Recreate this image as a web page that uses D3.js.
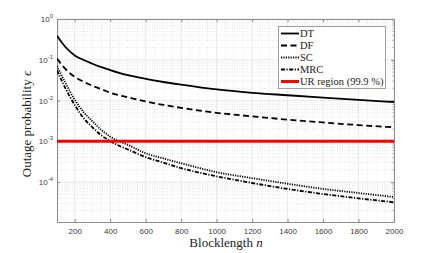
<!DOCTYPE html>
<html>
<head>
<meta charset="utf-8">
<script src="https://cdn.jsdelivr.net/npm/d3@7"></script>
<style>
  body { margin: 0; background: #fff; }
  svg text { font-family: "Liberation Sans", Arial, sans-serif; }
  svg text.serif { font-family: "Liberation Serif", "Times New Roman", serif; }
</style>
</head>
<body>
<script>
const w = 436;
const h = 253;
const margin = { left: 57, right: 42, top: 19, bottom: 31 };

// blocklength values
const blocklength = [100, 150, 200, 250, 300, 350, 400, 450, 500, 600, 700, 800, 1000, 1200, 1400, 1600, 1800, 2000];

// outage probability
const dtValues  = [0.39, 0.2, 0.128, 0.099, 0.08, 0.066, 0.056, 0.048, 0.042, 0.034, 0.0285, 0.0245, 0.0187, 0.0155, 0.0135, 0.0118, 0.0104, 0.0092];
const dfValues  = [0.107, 0.058, 0.038, 0.029, 0.023, 0.019, 0.0156, 0.0135, 0.012, 0.0095, 0.0078, 0.0066, 0.005, 0.0041, 0.0034, 0.0029, 0.0025, 0.0022];
const scValues  = [0.07, 0.026, 0.0105, 0.0052, 0.0031, 0.0019, 0.0013, 0.00101, 0.00082, 0.00051, 0.00038, 0.00029, 0.000175, 0.000125, 0.000091, 0.000068, 0.000054, 0.000043];
const mrcValues = [0.055, 0.019, 0.0078, 0.0037, 0.0022, 0.0014, 0.00101, 0.00078, 0.00063, 0.00041, 0.0003, 0.00022, 0.000138, 0.000095, 0.000068, 0.000051, 0.00004, 0.000032];
const urLevel = 1e-3;

const seriesNames = ['DT', 'DF', 'SC', 'MRC', 'UR region (99.9 %)'];
const xTicks = [200, 400, 600, 800, 1000, 1200, 1400, 1600, 1800, 2000];
const yTickExp = [0, -1, -2, -3, -4];

const svg = d3.select('body')
  .append('svg')
  .attr('width', w)
  .attr('height', h);

const xScale = d3.scaleLinear()
  .domain([100, 2000])
  .range([margin.left, w - margin.right]);

const yScale = d3.scaleLog()
  .domain([1.05e-5, 1])
  .range([h - margin.bottom, margin.top]);

const x0 = margin.left, x1 = w - margin.right;
const y0 = h - margin.bottom, y1 = margin.top;

// minor grid (dotted)
const minorY = [];
for (let e = -5; e < 0; e++) {
  for (let k = 2; k <= 9; k++) {
    const v = k * Math.pow(10, e);
    if (v > 1.05e-5 && v < 1) minorY.push(v);
  }
}
const minorX = d3.range(150, 2000, 50).filter(d => d % 200 !== 0);

svg.append('g').selectAll('line')
  .data(minorY)
  .enter()
  .append('line')
  .attr('x1', x0).attr('x2', x1)
  .attr('y1', d => yScale(d)).attr('y2', d => yScale(d))
  .attr('stroke', '#d4d4d4')
  .attr('stroke-width', 0.6)
  .attr('stroke-dasharray', '1,1.5');

svg.append('g').selectAll('line')
  .data(minorX)
  .enter()
  .append('line')
  .attr('x1', d => xScale(d)).attr('x2', d => xScale(d))
  .attr('y1', y0).attr('y2', y1)
  .attr('stroke', '#dedede')
  .attr('stroke-width', 0.6)
  .attr('stroke-dasharray', '1,1.5');

// major grid
svg.append('g').selectAll('line')
  .data(xTicks)
  .enter()
  .append('line')
  .attr('x1', d => xScale(d)).attr('x2', d => xScale(d))
  .attr('y1', y0).attr('y2', y1)
  .attr('stroke', '#e3e3e3')
  .attr('stroke-width', 0.8);

svg.append('g').selectAll('line')
  .data(yTickExp)
  .enter()
  .append('line')
  .attr('x1', x0).attr('x2', x1)
  .attr('y1', d => yScale(Math.pow(10, d))).attr('y2', d => yScale(Math.pow(10, d)))
  .attr('stroke', '#e3e3e3')
  .attr('stroke-width', 0.8);

// axes with inward ticks
const axisColor = '#8c8c8c';
const xAxis = d3.axisBottom(xScale).tickValues(xTicks).tickSizeInner(-3).tickSizeOuter(0).tickPadding(6).tickFormat(d3.format('d'));
const xAxisTop = d3.axisTop(xScale).tickValues(xTicks).tickSizeInner(-3).tickSizeOuter(0).tickFormat('');
const yAxis = d3.axisLeft(yScale).tickValues(yTickExp.map(e => Math.pow(10, e))).tickSizeInner(-3).tickSizeOuter(0).tickFormat('');
const yAxisRight = d3.axisRight(yScale).tickValues(yTickExp.map(e => Math.pow(10, e))).tickSizeInner(-3).tickSizeOuter(0).tickFormat('');

function styleAxis(g) {
  g.select('.domain').attr('stroke', axisColor).attr('stroke-width', 1);
  g.selectAll('.tick line').attr('stroke', axisColor);
  g.selectAll('.tick text').attr('fill', '#3a3a3a').style('font-size', '8px');
}

svg.append('g').attr('transform', 'translate(0,' + y0 + ')').call(xAxis).call(styleAxis);
svg.append('g').attr('transform', 'translate(0,' + y1 + ')').call(xAxisTop).call(styleAxis);
svg.append('g').attr('transform', 'translate(' + x0 + ',0)').call(yAxis).call(styleAxis);
svg.append('g').attr('transform', 'translate(' + x1 + ',0)').call(yAxisRight).call(styleAxis);

// minor y ticks
[[x0, 1.6], [x1, -1.6]].forEach(([xx, dx]) => {
  svg.append('g').selectAll('line')
    .data(minorY)
    .enter()
    .append('line')
    .attr('x1', xx).attr('x2', xx + dx)
    .attr('y1', d => yScale(d)).attr('y2', d => yScale(d))
    .attr('stroke', axisColor)
    .attr('stroke-width', 0.6);
});

// y tick labels 10^e
const yLab = svg.append('g');
yTickExp.forEach(e => {
  const t = yLab.append('text')
    .attr('x', x0 - 4)
    .attr('y', yScale(Math.pow(10, e)) + 3)
    .attr('text-anchor', 'end')
    .attr('fill', '#3a3a3a')
    .style('font-size', '8px');
  t.append('tspan').text('10');
  t.append('tspan').attr('dy', -4).style('font-size', '6px').text(e === 0 ? '0' : '-' + Math.abs(e));
});

// curves
const series = [
  { values: dtValues, dash: null },
  { values: dfValues, dash: '6,3.5' },
  { values: scValues, dash: '1.2,1.2' },
  { values: mrcValues, dash: '4,1.5,1.2,1.5' }
];

const line = d3.line()
  .x(d => xScale(d[0]))
  .y(d => yScale(d[1]))
  .curve(d3.curveMonotoneX);

svg.append('clipPath').attr('id', 'plotclip')
  .append('rect').attr('x', x0).attr('y', y1).attr('width', x1 - x0).attr('height', y0 - y1);

const plot = svg.append('g').attr('clip-path', 'url(#plotclip)');

series.forEach(s => {
  plot.append('path')
    .datum(blocklength.map((n, i) => [n, s.values[i]]))
    .attr('d', line)
    .attr('fill', 'none')
    .attr('stroke', '#000')
    .attr('stroke-width', 1.8)
    .attr('stroke-dasharray', s.dash);
});

plot.append('line')
  .attr('x1', xScale(100)).attr('x2', xScale(2000))
  .attr('y1', yScale(urLevel)).attr('y2', yScale(urLevel))
  .attr('stroke', '#ff0000')
  .attr('stroke-width', 3);

// axis labels
svg.append('text')
  .attr('class', 'serif')
  .attr('x', 226)
  .attr('y', 247)
  .attr('text-anchor', 'middle')
  .style('font-size', '13px')
  .attr('fill', '#222')
  .html('Blocklength <tspan font-style="italic">n</tspan>');

svg.append('text')
  .attr('class', 'serif')
  .attr('transform', 'translate(31,124) rotate(-90)')
  .attr('text-anchor', 'middle')
  .style('font-size', '13px')
  .attr('fill', '#222')
  .html('Outage probability <tspan font-style="italic">ϵ</tspan>');

// legend
const legend = svg.append('g');
legend.append('rect')
  .attr('x', 278.5).attr('y', 26.5)
  .attr('width', 107).attr('height', 62)
  .attr('fill', '#fff')
  .attr('stroke', '#8a8a8a')
  .attr('stroke-width', 0.8);

const legendStyles = [
  { color: '#000', dash: null, width: 1.8 },
  { color: '#000', dash: '6,3.5', width: 1.8 },
  { color: '#000', dash: '1.2,1.2', width: 1.8 },
  { color: '#000', dash: '4,1.5,1.2,1.5', width: 1.8 },
  { color: '#ff0000', dash: null, width: 3 }
];

seriesNames.forEach((name, i) => {
  const yy = 33.5 + i * 12;
  legend.append('line')
    .attr('x1', 281).attr('x2', 299)
    .attr('y1', yy).attr('y2', yy)
    .attr('stroke', legendStyles[i].color)
    .attr('stroke-width', legendStyles[i].width)
    .attr('stroke-dasharray', legendStyles[i].dash);
  legend.append('text')
    .attr('class', 'serif')
    .attr('x', 300)
    .attr('y', yy + 3.5)
    .style('font-size', '10.5px')
    .attr('fill', '#222')
    .text(name);
});
</script>
</body>
</html>
